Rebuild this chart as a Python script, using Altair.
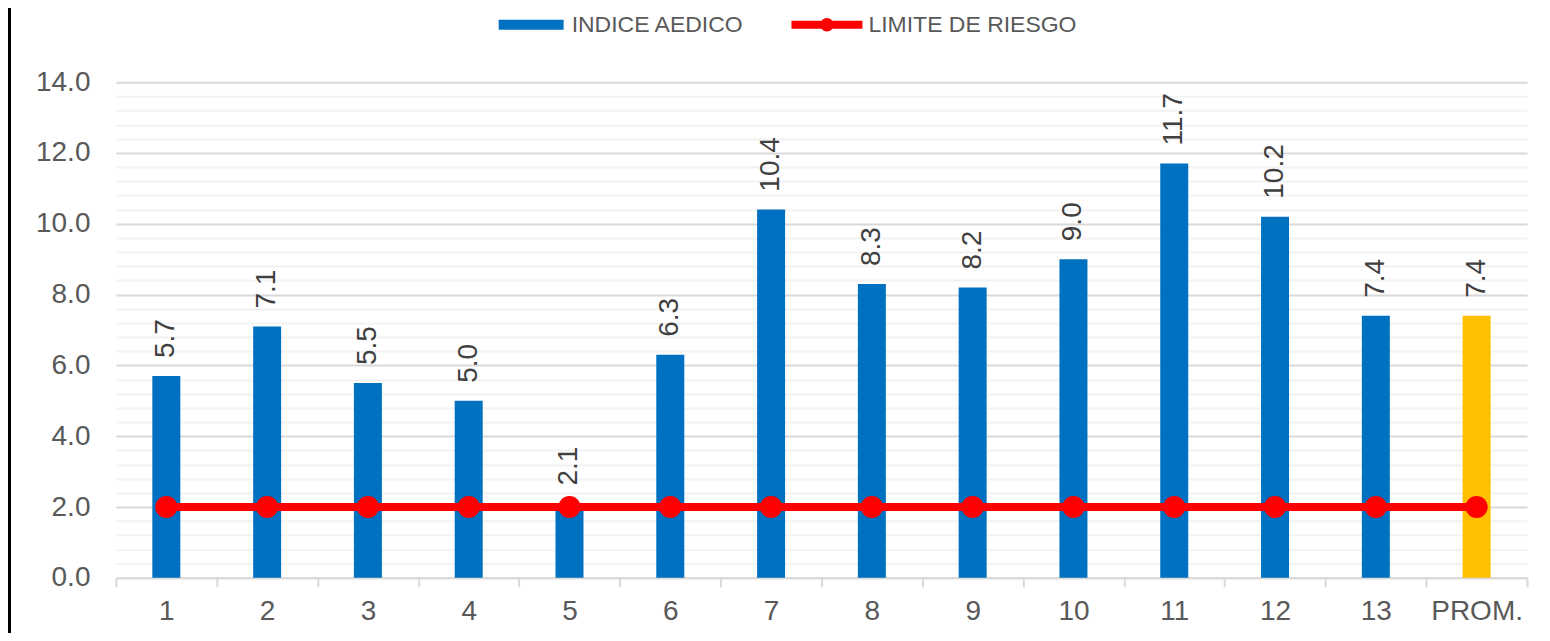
import altair as alt
import pandas as pd

categories = ["1", "2", "3", "4", "5", "6", "7", "8", "9", "10", "11", "12", "13", "PROM."]
indice = [5.7, 7.1, 5.5, 5.0, 2.1, 6.3, 10.4, 8.3, 8.2, 9.0, 11.7, 10.2, 7.4, 7.4]
bar_group = ["INDICE AEDICO"] * 13 + ["PROM"]
limite = [2.0] * 14
limite_name = ["LIMITE DE RIESGO"] * 14

grid_values = [0.0, 0.4, 0.8, 1.2, 1.6, 2.0, 2.4, 2.8, 3.2, 3.6, 4.0, 4.4, 4.8,
               5.2, 5.6, 6.0, 6.4, 6.8, 7.2, 7.6, 8.0, 8.4, 8.8, 9.2, 9.6, 10.0,
               10.4, 10.8, 11.2, 11.6, 12.0, 12.4, 12.8, 13.2, 13.6, 14.0]

df = pd.DataFrame({
    "cat": categories,
    "indice": indice,
    "grupo": bar_group,
    "limite": limite,
    "serie": limite_name,
})

FONT = "Liberation Sans"
W, H = 1412, 496

x_enc = alt.X(
    "cat:N",
    sort=categories,
    title=None,
    scale=alt.Scale(paddingInner=0, paddingOuter=0),
    axis=alt.Axis(
        labelAngle=0,
        labelFont=FONT,
        labelFontSize=28,
        labelColor="#595959",
        labelPadding=11,
        tickBand="extent",
        tickSize=9,
        tickWidth=2,
        tickColor="#D9D9D9",
        domainColor="#D9D9D9",
        domainWidth=2,
        grid=False,
    ),
)

y_scale = alt.Scale(domain=[0, 14], nice=False, zero=True)

y_axis = alt.Axis(
    values=grid_values,
    tickCount=100,
    labelExpr="datum.value % 2 === 0 ? format(datum.value, '.1f') : ''",
    labelFont=FONT,
    labelFontSize=28,
    labelColor="#595959",
    labelPadding=26,
    labelOverlap=False,
    ticks=False,
    domain=False,
    grid=True,
    gridWidth=2,
    gridColor={"condition": {"test": "datum.value % 2 === 0", "value": "#D9D9D9"},
               "value": "#F2F2F2"},
)

bars = alt.Chart(df).mark_bar(size=28).encode(
    x=x_enc,
    y=alt.Y("indice:Q", scale=y_scale, title=None, axis=y_axis),
    color=alt.Color(
        "grupo:N",
        scale=alt.Scale(domain=["INDICE AEDICO", "PROM"], range=["#0070C0", "#FFC000"]),
        legend=alt.Legend(
            title=None,
            values=["INDICE AEDICO"],
            orient="none",
            legendX=383,
            legendY=-90,
            padding=0,
            symbolType="M-1,-0.154H1V0.154H-1Z",
            symbolSize=4225,
            symbolStrokeWidth=0,
            labelOffset=8,
            labelLimit=400,
            labelFont=FONT,
            labelFontSize=23,
            labelColor="#595959",
        ),
    ),
)

labels = alt.Chart(df).mark_text(
    angle=270,
    align="left",
    baseline="middle",
    dx=18,
    font=FONT,
    fontSize=28,
    color="#404040",
).encode(
    x=alt.X("cat:N", sort=categories),
    y=alt.Y("indice:Q", scale=y_scale),
    text=alt.Text("indice:Q", format=".1f"),
)

line = alt.Chart(df).mark_line(color="#FF0000", strokeWidth=8).encode(
    x=alt.X("cat:N", sort=categories),
    y=alt.Y("limite:Q", scale=y_scale),
)

points = alt.Chart(df).mark_circle(size=490, opacity=1).encode(
    x=alt.X("cat:N", sort=categories),
    y=alt.Y("limite:Q", scale=y_scale),
    fill=alt.Fill(
        "serie:N",
        scale=alt.Scale(domain=["LIMITE DE RIESGO"], range=["#FF0000"]),
        legend=alt.Legend(
            title=None,
            orient="none",
            legendX=676,
            legendY=-93,
            padding=0,
            symbolType="M-1,-0.113H1V0.113H-1Z M-0.19,0A0.19,0.19 0 1,1 0.19,0A0.19,0.19 0 1,1 -0.19,0Z",
            symbolSize=5041,
            symbolStrokeWidth=0,
            symbolOpacity=1,
            labelOffset=6,
            labelLimit=400,
            labelFont=FONT,
            labelFontSize=23,
            labelColor="#595959",
        ),
    ),
)

border = alt.Chart(df).mark_rule(color="#000000", strokeWidth=3).encode(
    x=alt.value(-106.5),
    y=alt.value(-74),
    y2=alt.value(H + 55),
)

chart = alt.layer(bars, labels, line, points, border).resolve_scale(
    color="independent", fill="independent"
).properties(
    width=W,
    height=H,
    padding={"left": 108, "top": 74, "right": 15, "bottom": 55},
    autosize=alt.AutoSizeParams(type="none"),
).configure(background="white").configure_view(stroke=None)

chart.save("out.html", embed_options={"renderer": "svg", "actions": False})
